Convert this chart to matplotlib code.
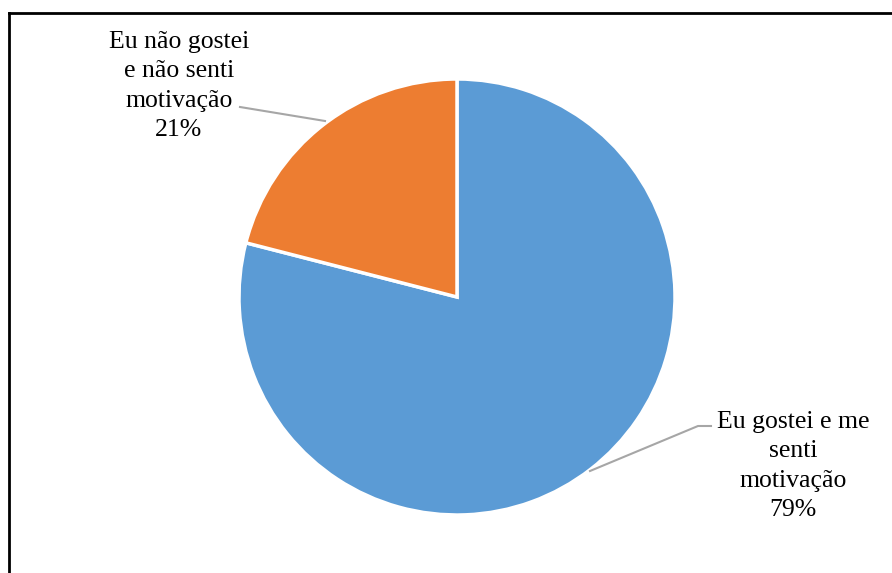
import matplotlib.pyplot as plt
from matplotlib.lines import Line2D

labels = ['Eu gostei e me\nsenti\nmotivação\n79%', 'Eu não gostei\ne não senti\nmotivação\n21%']
values = [79, 21]
colors = ['#5B9BD5', '#ED7D31']

W, H = 892, 573
fig = plt.figure(figsize=(W / 100, H / 100), dpi=100)
ax = fig.add_axes([0, 0, 1, 1])

# pie in pixel coordinates (y flipped)
cx, cy, r = 457, H - 297, 218
ax.pie(values, colors=colors, startangle=90, counterclock=False,
       center=(cx, cy), radius=r, frame=True,
       wedgeprops=dict(edgecolor='white', linewidth=2.5))
ax.set_xlim(0, W)
ax.set_ylim(0, H)
ax.set_aspect('equal')
ax.axis('off')

# leader lines
ax.plot([240, 325], [H - 107, H - 121], color='#A6A6A6', lw=1.5)
ax.plot([711, 698, 590], [H - 426, H - 426, H - 471], color='#A6A6A6', lw=1.5)

font = dict(family='Liberation Serif', size=18.5, ha='center', va='center',
            multialignment='center', linespacing=1.45)
ax.text(179, H - 86, labels[1], **font)
ax.text(793, H - 466, labels[0], **font)

# partial frame (top and left edges)
fig.add_artist(Line2D([9 / W, 1], [1 - 13 / H, 1 - 13 / H], color='black', lw=2))
fig.add_artist(Line2D([9 / W, 9 / W], [0, 1 - 13 / H], color='black', lw=2))

fig.savefig('out.png', dpi=100)
